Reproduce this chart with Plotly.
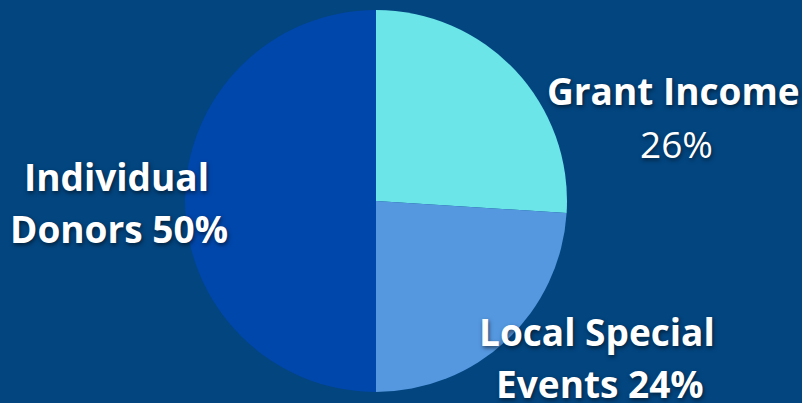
import plotly.graph_objects as go

categories = ["Grant Income", "Local Special Events", "Individual Donors"]
values = [26, 24, 50]
colors = ["#6CE5E8", "#5598E0", "#0047AB"]

W, H = 802, 403
cx, cy, r = 376, 201, 191

fig = go.Figure(go.Pie(
    labels=categories, values=values, sort=False, direction="clockwise", rotation=0,
    marker=dict(colors=colors, line=dict(width=0)),
    textinfo="none", hoverinfo="label+percent", showlegend=False,
    domain=dict(x=[(cx - r) / W, (cx + r) / W], y=[(H - cy - r) / H, (H - cy + r) / H]),
))

shadow = "1px 2px 4px rgba(0,0,0,0.55)"
def ann(text, x, y, weight=700):
    fig.add_annotation(text=text, x=x / W, y=1 - y / H, xref="paper", yref="paper",
                       showarrow=False, xanchor="center", yanchor="middle",
                       font=dict(family="Open Sans", size=37, color="white", weight=weight, shadow=shadow))

ann("Grant Income", 673, 90)
ann(f"{values[0]}%", 676, 143, weight=400)
ann("Individual", 116, 176)
ann(f"Donors {values[2]}%", 119, 228)
ann("Local Special", 597, 331)
ann(f"Events {values[1]}%", 600, 383)

fig.update_layout(width=W, height=H, margin=dict(l=0, r=0, t=0, b=0),
                  paper_bgcolor="#03457F", plot_bgcolor="#03457F")
fig.write_html("out.html", config={"displayModeBar": False},
               post_script="document.body.style.margin='0';document.body.style.overflow='hidden';document.body.style.background='#03457F';")
